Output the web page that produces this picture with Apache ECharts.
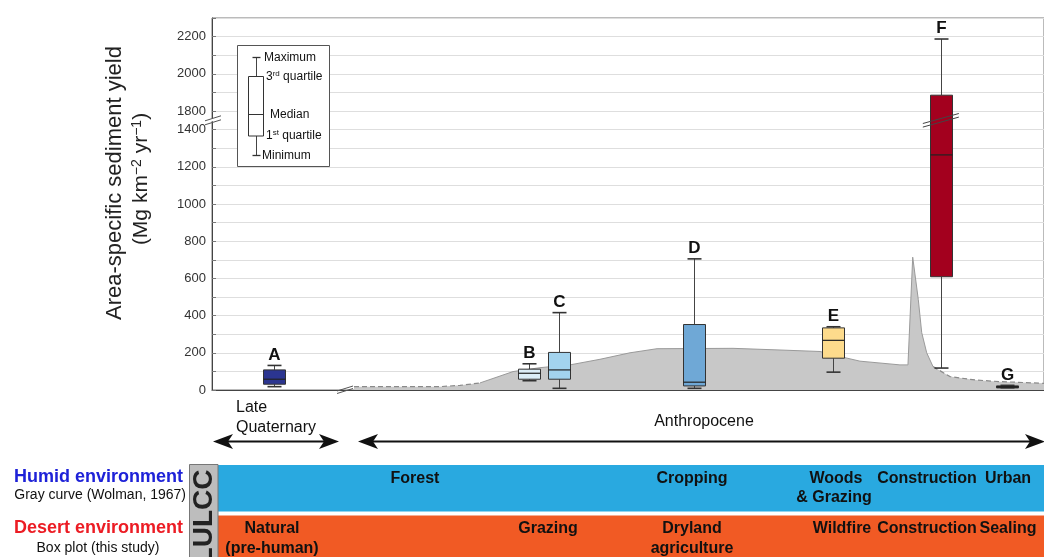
<!DOCTYPE html>
<html><head><meta charset="utf-8">
<script src="https://cdn.jsdelivr.net/npm/echarts@6/dist/echarts.min.js"></script>
<style>html,body{margin:0;padding:0;background:#fff}#c{width:1044px;height:557px}</style>
</head><body><div id="c"></div>
<script>
// ---------- data ----------
const boxNames  = ['A','B','C','D','E','F','G'];
const boxTime   = [7.45, 38.1, 41.7, 57.9, 74.6, 87.6, 95.6];   // relative position along timeline (0-100)
const boxMin    = [18, 50, 9, 9, 96, 118, 12];
const boxQ1     = [31, 58, 58, 22, 171, 609, 15];
const boxMedian = [58, 90, 108, 42, 267, 1264, 18];
const boxQ3     = [108, 112, 202, 352, 334, 1885, 22];
const boxMax    = [132, 141, 416, 705, 340, 2187, 25];
const boxColors = ['#2b3590', '#dcedf7', '#a3d3ee', '#6fa8d6', '#fddb8c', '#a3001e', '#111111'];

const curveTime  = [17.07, 27.40, 29.81, 32.21, 34.62, 36.18, 39.42, 43.03, 46.63, 50.24, 53.49, 62.62, 68.27, 73.08, 75.96, 77.88, 82.69, 83.65, 84.22, 84.89, 85.30, 85.90, 86.66, 88.70, 91.71, 94.71, 100];
const curveYield = [18, 18, 25, 38, 75, 99, 120, 135, 165, 200, 222, 224, 215, 207, 175, 155, 135, 135, 714, 487, 309, 200, 126, 72, 54, 45, 36];

const yTickLabels = [0, 200, 400, 600, 800, 1000, 1200, 1400, 1800, 2000, 2200];
const breakLow = 1400, breakHigh = 1800;

const humidLabels  = ['Forest', 'Cropping', 'Woods\n& Grazing', 'Construction', 'Urban'];
const desertLabels = ['Natural\n(pre-human)', 'Grazing', 'Dryland\nagriculture', 'Wildfire', 'Construction', 'Sealing'];

// ---------- broken-axis transform ----------
const gapUnits = 100;
const shift = (breakHigh - breakLow) - gapUnits;
function tf(v) { return v <= breakLow ? v : v - shift; }
function inv(t) { return t <= breakLow ? t : t + shift; }

const FONT = 'Liberation Sans, Arial, sans-serif';

const boxData = boxNames.map((n, i) => [boxTime[i], tf(boxMin[i]), tf(boxQ1[i]), tf(boxMedian[i]), tf(boxQ3[i]), tf(boxMax[i])]);
const curveData = curveTime.map((x, i) => [x, tf(curveYield[i])]);
const dashStart = curveData.slice(0, 4);
const solidMid = curveData.slice(3, 23);
const dashEnd = curveData.slice(22);

const chart = echarts.init(document.getElementById('c'), null, {renderer: 'canvas'});

function renderBox(params, api) {
  const i = params.dataIndex;
  const x = api.value(0);
  const pMin = api.coord([x, api.value(1)]);
  const pQ1 = api.coord([x, api.value(2)]);
  const pMed = api.coord([x, api.value(3)]);
  const pQ3 = api.coord([x, api.value(4)]);
  const pMax = api.coord([x, api.value(5)]);
  const cx = Math.round(pMin[0]) + 0.5, hw = 11, cap = 7;
  const wStyle = {stroke: '#444', lineWidth: 1};
  const cStyle = {stroke: '#333', lineWidth: 1.6};
  return {
    type: 'group',
    children: [
      {type: 'line', shape: {x1: cx, y1: pMax[1], x2: cx, y2: pQ3[1]}, style: wStyle},
      {type: 'line', shape: {x1: cx, y1: pQ1[1], x2: cx, y2: pMin[1]}, style: wStyle},
      {type: 'line', shape: {x1: cx - cap, y1: pMax[1], x2: cx + cap, y2: pMax[1]}, style: cStyle},
      {type: 'line', shape: {x1: cx - cap, y1: pMin[1], x2: cx + cap, y2: pMin[1]}, style: cStyle},
      {type: 'rect', shape: {x: cx - hw, y: pQ3[1], width: 2 * hw, height: Math.max(pQ1[1] - pQ3[1], 2)},
        style: {fill: boxColors[i], stroke: '#333', lineWidth: 1}},
      {type: 'line', shape: {x1: cx - hw, y1: pMed[1], x2: cx + hw, y2: pMed[1]}, style: {stroke: '#222', lineWidth: 1.2}},
      {type: 'text', x: cx, y: pMax[1] - 2,
        style: {text: boxNames[i], align: 'center', verticalAlign: 'bottom', font: 'bold 17px ' + FONT, fill: '#111'}}
    ]
  };
}

const option = {
  animation: false,
  backgroundColor: '#fff',
  grid: {left: 212, right: -2, top: 18, bottom: 167, show: true, borderColor: '#777', borderWidth: 1},
  xAxis: {
    type: 'value', min: 0, max: 100,
    axisLine: {show: true, onZero: false, lineStyle: {color: '#444', width: 1}},
    axisTick: {show: false}, axisLabel: {show: false}, splitLine: {show: false}
  },
  yAxis: {
    type: 'value', min: 0, max: 2000, interval: 100,
    axisLine: {show: true, lineStyle: {color: '#444', width: 1}},
    axisTick: {show: true, inside: true, length: 4, lineStyle: {color: '#777'}},
    axisLabel: {
      color: '#333', fontSize: 13, fontFamily: FONT, margin: 6,
      formatter: function (t) { const v = inv(t); return yTickLabels.indexOf(v) >= 0 ? String(v) : ''; }
    },
    splitLine: {show: true, lineStyle: {color: '#dedede', width: 1}}
  },
  series: [
    {type: 'line', data: curveData, symbol: 'none', lineStyle: {width: 0},
      areaStyle: {color: '#c8c8c8', opacity: 1}, z: 1, silent: true},
    {type: 'line', data: solidMid, symbol: 'none', lineStyle: {color: '#9a9a9a', width: 1}, z: 2, silent: true},
    {type: 'line', data: dashStart, symbol: 'none', lineStyle: {color: '#8a8a8a', width: 1.2, type: [5, 3]}, z: 2, silent: true},
    {type: 'line', data: dashEnd, symbol: 'none', lineStyle: {color: '#8a8a8a', width: 1.2, type: [5, 3]}, z: 2, silent: true},
    {type: 'custom', renderItem: renderBox, data: boxData, z: 5, clip: false}
  ]
};
chart.setOption(option);

// ---------- decorations ----------
const g = [];
function text(x, y, t, font, fill, align, extra) {
  g.push(Object.assign({type: 'text', x: x, y: y, z: 100,
    style: Object.assign({text: t, font: font, fill: fill || '#111', align: align || 'left', verticalAlign: 'middle'}, extra || {})}));
}
function line(x1, y1, x2, y2, stroke, w, z) {
  g.push({type: 'line', z: z || 100, shape: {x1, y1, x2, y2}, style: {stroke: stroke, lineWidth: w}});
}
function arrowHead(tx, ty, d) {
  g.push({type: 'polygon', z: 100, shape: {points: [[tx, ty], [tx + d * 20, ty - 7.5], [tx + d * 15, ty], [tx + d * 20, ty + 7.5]]},
    style: {fill: '#111'}});
}

// axis breaks (position from the chart's own scale)
const breakT = (tf(breakLow) + tf(breakHigh)) / 2;
const pAxis = chart.convertToPixel({gridIndex: 0}, [0, breakT]);
g.push({type: 'rect', z: 99, shape: {x: 206, y: pAxis[1] - 2, width: 14, height: 3}, style: {fill: '#fff'}});
[[-2], [2]].forEach(([o]) => {
  line(205, pAxis[1] + 2.5 + o, 221, pAxis[1] - 2.5 + o, '#555', 1);
});
const pF = chart.convertToPixel({gridIndex: 0}, [boxTime[5], breakT]);
[[-1.8], [1.8]].forEach(([o]) => {
  line(pF[0] - 18, pF[1] + 5 + o, pF[0] + 18, pF[1] - 5 + o, '#444', 1);
});
const pX = chart.convertToPixel({gridIndex: 0}, [curveTime[0], 0]);
line(pX[0] - 17, pX[1] + 1, pX[0] - 1, pX[1] - 4, '#555', 1);
line(pX[0] - 17, pX[1] + 3.5, pX[0] - 1, pX[1] - 1.5, '#555', 1);

// y-axis title
g.push({type: 'text', x: 115, y: 183, rotation: Math.PI / 2, z: 100,
  style: {text: 'Area-specific sediment yield', font: '22px ' + FONT, fill: '#222', align: 'center', verticalAlign: 'middle'}});
g.push({type: 'text', x: 141, y: 179, rotation: Math.PI / 2, z: 100,
  style: {text: '(Mg km{s|−2} yr{s|−1})', font: '21px ' + FONT, fill: '#222', align: 'center', verticalAlign: 'middle',
    rich: {s: {fontSize: 14, fontFamily: FONT, verticalAlign: 'top', lineHeight: 22, fill: '#222'}}}});

// inset key
g.push({type: 'rect', z: 100, shape: {x: 237.5, y: 45.5, width: 92, height: 121}, style: {fill: '#fff', stroke: '#555', lineWidth: 1}});
line(256.5, 57.5, 256.5, 76.5, '#444', 1);
line(256.5, 136, 256.5, 155.5, '#444', 1);
line(252.5, 57.5, 260.5, 57.5, '#333', 1.3);
line(252.5, 155.5, 260.5, 155.5, '#333', 1.3);
g.push({type: 'rect', z: 100, shape: {x: 248.5, y: 76.5, width: 15, height: 59.5}, style: {fill: '#fff', stroke: '#333', lineWidth: 1}});
line(248.5, 114.5, 263.5, 114.5, '#333', 1);
const kf = '12px ' + FONT;
const supRich = {s: {fontSize: 8, fontFamily: FONT, verticalAlign: 'top', lineHeight: 14, fill: '#111'}};
text(264, 57.5, 'Maximum', kf);
g.push({type: 'text', x: 266, y: 77, z: 100, style: {text: '3{s|rd} quartile', font: kf, fill: '#111', align: 'left', verticalAlign: 'middle', rich: supRich}});
text(270, 114.5, 'Median', kf);
g.push({type: 'text', x: 266, y: 136, z: 100, style: {text: '1{s|st} quartile', font: kf, fill: '#111', align: 'left', verticalAlign: 'middle', rich: supRich}});
text(262, 156, 'Minimum', kf);

// period annotations
text(236, 408, 'Late', '16px ' + FONT, '#111');
text(236, 428, 'Quaternary', '16px ' + FONT, '#111');
text(704, 422, 'Anthropocene', '16px ' + FONT, '#111', 'center');
line(225, 441.5, 330, 441.5, '#111', 2);
arrowHead(213, 441.5, 1); arrowHead(339, 441.5, -1);
line(368, 441.5, 1034, 441.5, '#111', 2);
arrowHead(358, 441.5, 1); arrowHead(1045, 441.5, -1);

// LULCC bands
g.push({type: 'rect', z: 90, shape: {x: 218, y: 465, width: 830, height: 46.5}, style: {fill: '#29a9e0'}});
g.push({type: 'rect', z: 90, shape: {x: 218, y: 515.5, width: 830, height: 45}, style: {fill: '#f15a24'}});
g.push({type: 'rect', z: 91, shape: {x: 189.5, y: 464.5, width: 28.5, height: 96}, style: {fill: '#bdbdbd', stroke: '#777', lineWidth: 1}});
g.push({type: 'text', x: 204, y: 517, rotation: Math.PI / 2, z: 100,
  style: {text: 'LULCC', font: 'bold 28px ' + FONT, fill: '#222', align: 'center', verticalAlign: 'middle'}});

const bf = 'bold 16px ' + FONT;
const humidX = [415, 692, 834, 927, 1008];
humidLabels.forEach((t, i) => {
  const lines = t.split('\n');
  lines.forEach((l, k) => text(humidX[i] + (i === 2 && k === 0 ? 2 : 0), 479 + k * 19, l, bf, '#111', 'center'));
});
const desertX = [272, 548, 692, 842, 927, 1008];
desertLabels.forEach((t, i) => {
  const lines = t.split('\n');
  lines.forEach((l, k) => text(desertX[i], 529 + k * 19.5, l, bf, '#111', 'center'));
});

// left legend
text(183, 477, 'Humid environment', 'bold 18px ' + FONT, '#1e22d8', 'right');
text(186, 495, 'Gray curve (Wolman, 1967)', '14px ' + FONT, '#111', 'right');
text(183, 528, 'Desert environment', 'bold 18px ' + FONT, '#ec1c24', 'right');
text(98, 548, 'Box plot (this study)', '14px ' + FONT, '#111', 'center');

chart.setOption({graphic: {elements: g}});
</script>
</body></html>
